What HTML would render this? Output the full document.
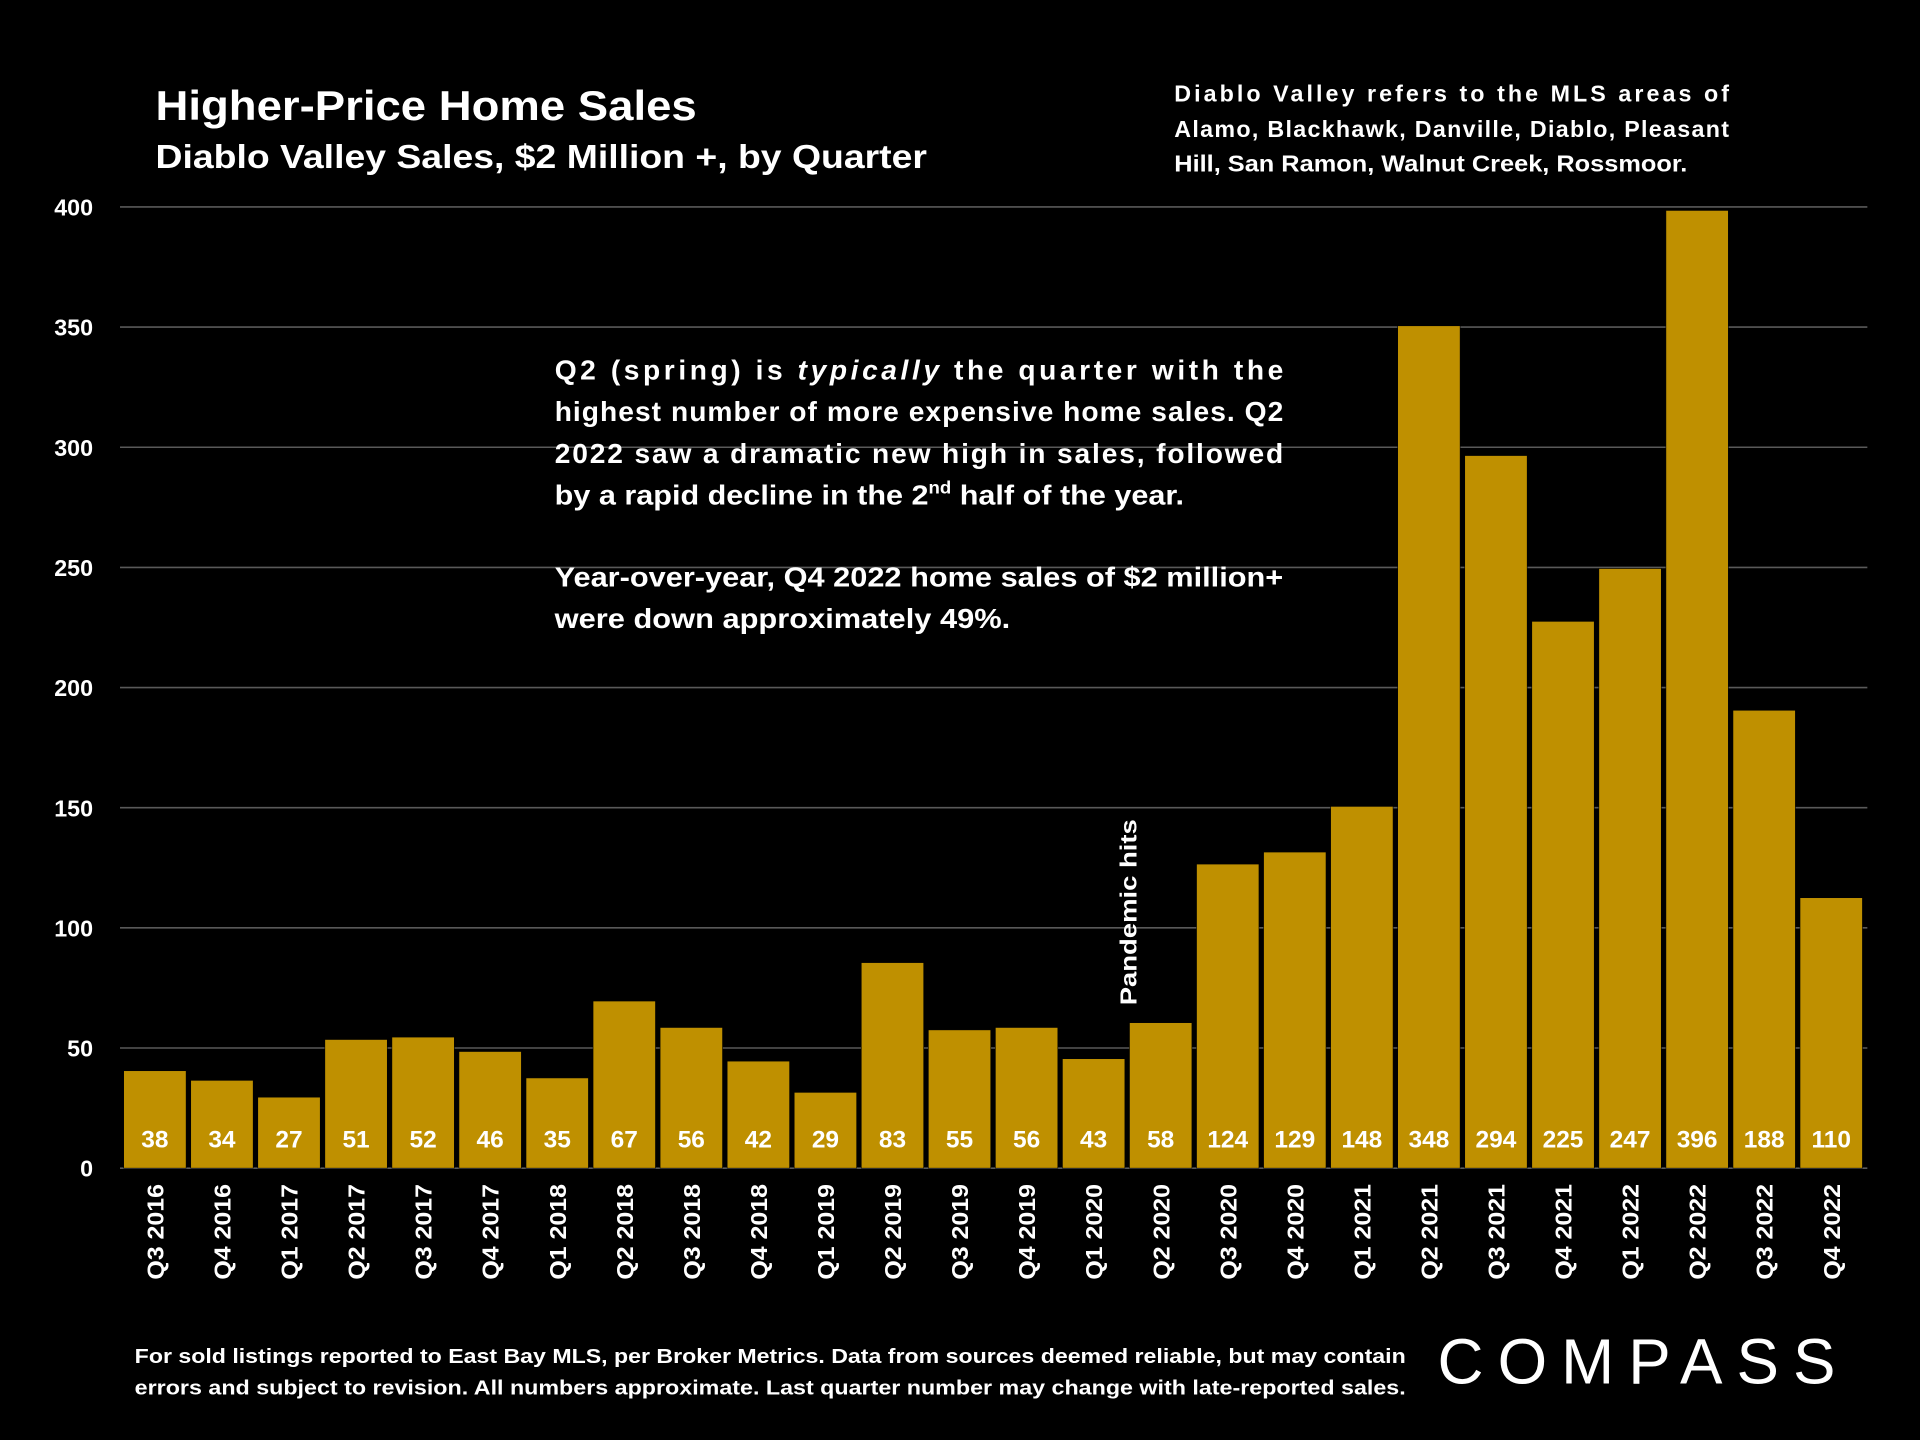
<!DOCTYPE html>
<html><head><meta charset="utf-8"><style>
html,body{margin:0;padding:0;background:#000;width:1920px;height:1440px;overflow:hidden}
svg{display:block}
text{font-family:"Liberation Sans",sans-serif;font-weight:bold;fill:#fff}
</style></head><body>
<svg id="chart" width="1920" height="1440" viewBox="0 0 1568 1176" xmlns="http://www.w3.org/2000/svg">
<rect width="1568" height="1176" fill="#000"/>
<text x="127" y="98" font-size="34" textLength="442" lengthAdjust="spacingAndGlyphs">Higher-Price Home Sales</text>
<text x="127" y="137" font-size="27" textLength="630" lengthAdjust="spacingAndGlyphs">Diablo Valley Sales, $2 Million +, by Quarter</text>
<g font-size="19">
<text x="959" y="83" textLength="453" lengthAdjust="spacing">Diablo Valley refers to the MLS areas of</text>
<text x="959" y="112" textLength="453" lengthAdjust="spacing">Alamo, Blackhawk, Danville, Diablo, Pleasant</text>
<text x="959" y="140" textLength="419" lengthAdjust="spacingAndGlyphs">Hill, San Ramon, Walnut Creek, Rossmoor.</text>
</g>
<g id="grid"></g>
<g id="yticks"></g>
<g id="bars"></g>
<g id="xlabels"></g>
<g font-size="23">
<text x="453" y="310" textLength="595" lengthAdjust="spacing">Q2 (spring) is <tspan font-style="italic">typically</tspan> the quarter with the</text>
<text x="453" y="344" textLength="595" lengthAdjust="spacing">highest number of more expensive home sales. Q2</text>
<text x="453" y="378" textLength="595" lengthAdjust="spacing">2022 saw a dramatic new high in sales, followed</text>
<text x="453" y="412" textLength="514" lengthAdjust="spacingAndGlyphs">by a rapid decline in the 2<tspan font-size="14" dy="-9">nd</tspan><tspan dy="9"> half of the year.</tspan></text>
<text x="453" y="479" textLength="595" lengthAdjust="spacingAndGlyphs">Year-over-year, Q4 2022 home sales of $2 million+</text>
<text x="453" y="513" textLength="372" lengthAdjust="spacingAndGlyphs">were down approximately 49%.</text>
</g>
<text transform="translate(928,821) rotate(-90)" font-size="19" textLength="152" lengthAdjust="spacingAndGlyphs">Pandemic hits</text>
<g font-size="16.5">
<text x="110" y="1113" textLength="1038" lengthAdjust="spacingAndGlyphs">For sold listings reported to East Bay MLS, per Broker Metrics. Data from sources deemed reliable, but may contain</text>
<text x="110" y="1139" textLength="1038" lengthAdjust="spacingAndGlyphs">errors and subject to revision. All numbers approximate. Last quarter number may change with late-reported sales.</text>
</g>
<text x="1174" y="1130" font-size="52" textLength="331" lengthAdjust="spacing" letter-spacing="6" style="font-weight:normal">COMPASS</text>
</svg>
<script>
const categories=["Q3 2016","Q4 2016","Q1 2017","Q2 2017","Q3 2017","Q4 2017","Q1 2018","Q2 2018","Q3 2018","Q4 2018","Q1 2019","Q2 2019","Q3 2019","Q4 2019","Q1 2020","Q2 2020","Q3 2020","Q4 2020","Q1 2021","Q2 2021","Q3 2021","Q4 2021","Q1 2022","Q2 2022","Q3 2022","Q4 2022"];
const salesValues=[38,34,27,51,52,46,35,67,56,42,29,83,55,56,43,58,124,129,148,348,294,225,247,396,188,110];
const yTicks=[0,50,100,150,200,250,300,350,400];
const NS="http://www.w3.org/2000/svg";
const y0=954,yTop=169,yMax=400,left=101,pitch=54.76,bw=51;
function yScale(v){return y0-(v/yMax)*(y0-yTop);}
function xScale(i){return left+i*pitch;}
function mk(t,a,p){const e=document.createElementNS(NS,t);for(const k in a)e.setAttribute(k,a[k]);p.appendChild(e);return e;}
const grid=document.getElementById('grid'),yt=document.getElementById('yticks'),bars=document.getElementById('bars'),xl=document.getElementById('xlabels');
yTicks.forEach(t=>{
 if(t>0){const l=mk('line',{x1:98,x2:1525,y1:yScale(t),y2:yScale(t),stroke:'#595959','stroke-width':1.3},grid);
 
 }
 const tx=mk('text',{x:76,y:yScale(t)+7,'text-anchor':'end','font-size':19},yt);tx.textContent=t;
 
 
});
salesValues.forEach((v,i)=>{
 const x=xScale(i);
 const r=mk('rect',{x:x,y:yScale(v)-5,width:bw,height:y0-yScale(v)+5,fill:'#BF9000',stroke:'#000','stroke-width':0.5},bars);
 
 
 const t=mk('text',{x:x+bw/2,y:937,'text-anchor':'middle','font-size':20},bars);t.textContent=v;
 
 
 const c=mk('text',{transform:'translate('+(x+bw/2+7)+',967) rotate(-90)','text-anchor':'end','font-size':19,textLength:78,lengthAdjust:'spacingAndGlyphs'},xl);c.textContent=categories[i];
 
 
});
const ax=mk('line',{x1:98,x2:1525,y1:y0,y2:y0,stroke:'#595959','stroke-width':1.3},grid);


</script>
</body></html>
